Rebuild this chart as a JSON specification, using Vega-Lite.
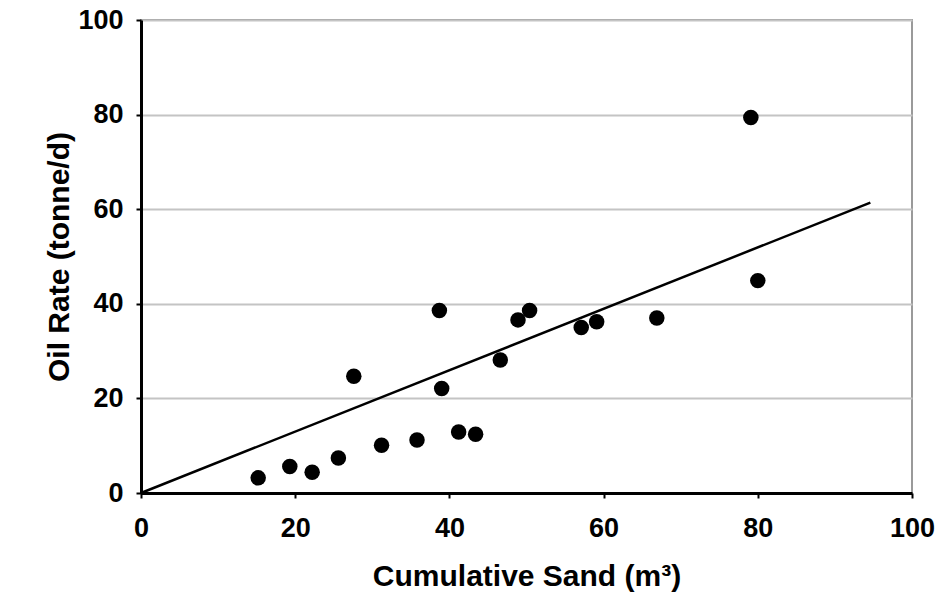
{
  "$schema": "https://vega.github.io/schema/vega-lite/v6.json",
  "width": 771,
  "height": 473,
  "autosize": {"type": "none"},
  "padding": {"left": 141, "top": 20, "right": 29, "bottom": 115},
  "background": "white",
  "config": {
    "view": {"stroke": "#9a9a9a", "strokeWidth": 2},
    "font": "Liberation Sans",
    "axis": {
      "labelFont": "Liberation Sans",
      "labelFontWeight": "bold",
      "labelFontSize": 27,
      "labelColor": "black",
      "titleFont": "Liberation Sans",
      "titleFontWeight": "bold",
      "titleFontSize": 30,
      "titleColor": "black",
      "domainColor": "black",
      "domainWidth": 3,
      "tickColor": "black",
      "tickWidth": 2,
      "tickSize": 5,
      "gridColor": "#c4c4c4",
      "gridWidth": 2
    }
  },
  "datasets": {
    "wells": [
      {"sand": 15.2, "oil": 3.2},
      {"sand": 19.3, "oil": 5.6},
      {"sand": 22.2, "oil": 4.4},
      {"sand": 25.6, "oil": 7.4},
      {"sand": 27.6, "oil": 24.7},
      {"sand": 31.2, "oil": 10.1},
      {"sand": 35.8, "oil": 11.2},
      {"sand": 38.7, "oil": 38.6},
      {"sand": 39.0, "oil": 22.1},
      {"sand": 41.2, "oil": 12.9},
      {"sand": 43.4, "oil": 12.4},
      {"sand": 46.6, "oil": 28.1},
      {"sand": 48.9, "oil": 36.6},
      {"sand": 50.4, "oil": 38.6},
      {"sand": 57.1, "oil": 35.0},
      {"sand": 59.1, "oil": 36.2},
      {"sand": 66.9, "oil": 37.0},
      {"sand": 79.1, "oil": 79.4},
      {"sand": 80.0, "oil": 44.9}
    ],
    "trend": [
      {"sand": 0, "oil": 0},
      {"sand": 94.6, "oil": 61.4}
    ]
  },
  "encoding": {
    "x": {
      "field": "sand", "type": "quantitative",
      "scale": {"domain": [0, 100], "nice": false, "zero": true},
      "axis": {"values": [0, 20, 40, 60, 80, 100], "grid": false, "title": "Cumulative Sand (m³)", "labelPadding": 17, "titlePadding": 20, "labelFlush": false}
    },
    "y": {
      "field": "oil", "type": "quantitative",
      "scale": {"domain": [0, 100], "nice": false},
      "axis": {"values": [0, 20, 40, 60, 80, 100], "grid": true, "title": "Oil Rate (tonne/d)", "labelPadding": 13, "titlePadding": 3, "labelFlush": false}
    }
  },
  "layer": [
    {
      "data": {"name": "trend"},
      "mark": {"type": "line", "color": "black", "strokeWidth": 2.5},
      "encoding": {}
    },
    {
      "data": {"name": "wells"},
      "mark": {"type": "point", "filled": true, "shape": "circle", "color": "black", "opacity": 1, "size": 240},
      "encoding": {}
    }
  ]
}
